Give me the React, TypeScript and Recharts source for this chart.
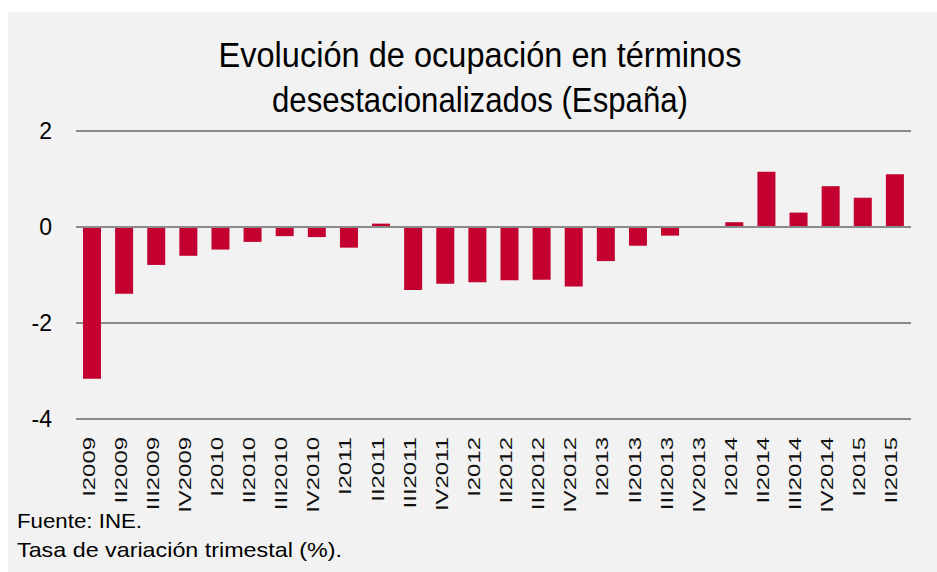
import React from 'react';
import { BarChart, Bar, XAxis, YAxis, CartesianGrid, ReferenceLine } from 'recharts';

document.body.style.margin = '0';
document.body.style.overflow = 'hidden';

const QUARTERS = [
  'I2009', 'II2009', 'III2009', 'IV2009',
  'I2010', 'II2010', 'III2010', 'IV2010',
  'I2011', 'II2011', 'III2011', 'IV2011',
  'I2012', 'II2012', 'III2012', 'IV2012',
  'I2013', 'II2013', 'III2013', 'IV2013',
  'I2014', 'II2014', 'III2014', 'IV2014',
  'I2015', 'II2015',
];

// quarterly change in employment, %
const VALUES = [
  -3.16, -1.39, -0.79, -0.6,
  -0.47, -0.31, -0.19, -0.21,
  -0.43, 0.07, -1.31, -1.18,
  -1.15, -1.11, -1.1, -1.24,
  -0.71, -0.39, -0.18, 0,
  0.1, 1.15, 0.3, 0.85,
  0.61, 1.1,
];

const Y_TICKS = [-4, -2, 0, 2];

const TITLE = ['Evolución de ocupación en términos', 'desestacionalizados (España)'];
const NOTES = ['Fuente: INE.', 'Tasa de variación trimestal (%).'];

const FONT = '"Liberation Sans", Arial, sans-serif';
const BAR_COLOR = '#c3002f';
const GRID_COLOR = '#8a8a8a';

const data = QUARTERS.map((q, i) => ({ name: q, value: VALUES[i] }));

// labels in the source are stretched along their length
const QuarterTick = (props: any) => {
  const { x, y, payload } = props;
  return (
    <g transform={`translate(${x + 2.5},${y})`}>
      <text
        transform="rotate(-90) scale(1.45,1)"
        textAnchor="end"
        fontSize={16.5}
        fontFamily={FONT}
        fill="#111"
      >
        {payload.value}
      </text>
    </g>
  );
};

export default function App() {
  return (
    <div
      style={{
        position: 'absolute',
        left: 8,
        top: 12,
        width: 929,
        height: 560,
        background: '#f2f2f2',
      }}
    >
      <svg width={929} height={130} style={{ position: 'absolute', left: 0, top: 0 }}>
        <text x={472} y={55.3} textAnchor="middle" fontSize={35} fontFamily={FONT} fill="#000"
          textLength={523} lengthAdjust="spacingAndGlyphs">
          {TITLE[0]}
        </text>
        <text x={472} y={99.7} textAnchor="middle" fontSize={35} fontFamily={FONT} fill="#000"
          textLength={416} lengthAdjust="spacingAndGlyphs">
          {TITLE[1]}
        </text>
      </svg>

      <div style={{ position: 'absolute', left: 0, top: 0 }}>
        <BarChart
          width={929}
          height={560}
          data={data}
          margin={{ top: 119, right: 26, left: 0, bottom: 73 }}
        >
          <CartesianGrid vertical={false} stroke={GRID_COLOR} strokeWidth={2} />
          <XAxis
            dataKey="name"
            interval={0}
            height={80}
            axisLine={false}
            tickLine={false}
            tickMargin={12}
            tick={<QuarterTick />}
          />
          <YAxis
            domain={[-4, 2]}
            ticks={Y_TICKS}
            width={68}
            axisLine={false}
            tickLine={false}
            tickMargin={18}
            tick={{ fontSize: 23, fill: '#000', fontFamily: FONT }}
          />
          <Bar dataKey="value" fill={BAR_COLOR} barSize={18} isAnimationActive={false} />
          <ReferenceLine y={0} stroke={GRID_COLOR} strokeWidth={2} />
        </BarChart>
      </div>

      <svg width={929} height={70} style={{ position: 'absolute', left: 0, top: 490 }}>
        <text x={9} y={26} fontSize={21} fontFamily={FONT} fill="#000"
          textLength={125} lengthAdjust="spacingAndGlyphs">
          {NOTES[0]}
        </text>
        <text x={9} y={55} fontSize={21} fontFamily={FONT} fill="#000"
          textLength={325} lengthAdjust="spacingAndGlyphs">
          {NOTES[1]}
        </text>
      </svg>
    </div>
  );
}
